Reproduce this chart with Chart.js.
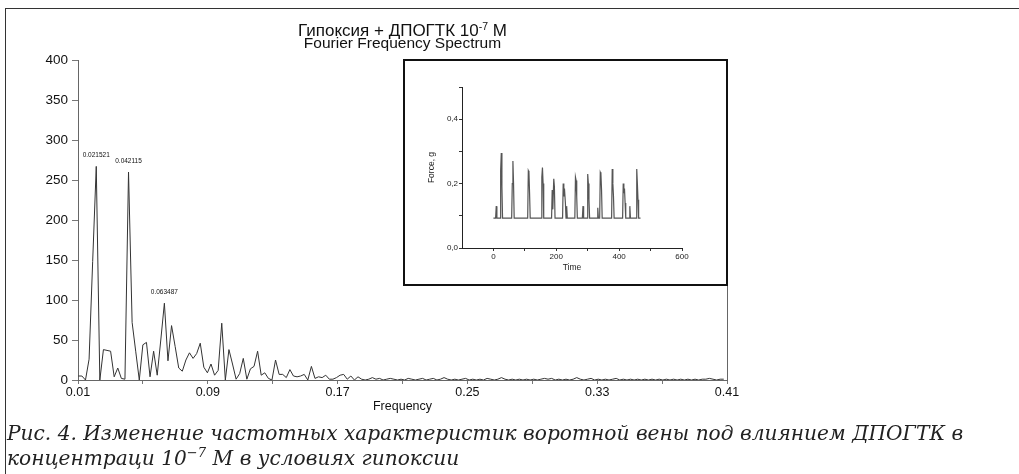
<!DOCTYPE html>
<html><head><meta charset="utf-8">
<script src="https://cdn.jsdelivr.net/npm/chart.js@4"></script>
<style>
html,body{margin:0;padding:0;background:#fff;}
#wrap{position:relative;width:1019px;height:474px;overflow:hidden;background:#fff;}
#main{position:absolute;left:0;top:0;}
#frame{position:absolute;left:5px;top:8px;width:1014px;height:466px;border-top:1.5px solid #333;border-left:1.5px solid #333;box-sizing:border-box;pointer-events:none;}
#insetBox{position:absolute;left:403px;top:59px;width:325px;height:227px;border:2px solid #111;box-sizing:border-box;background:#fff;}
#inset{display:block;}
#cap{position:absolute;left:7px;top:421px;font-family:"DejaVu Serif",serif;font-style:italic;line-height:25px;color:#222;white-space:nowrap;}
#cap sup{font-size:65%;vertical-align:0.6em;line-height:0;}
</style></head><body>
<div id="wrap">
<canvas id="main" width="1019" height="474"></canvas>
<div id="insetBox"><canvas id="inset" width="321" height="223"></canvas></div>
<div id="cap"></div>
<div id="frame"></div>
</div>
<script>
// ---- main spectrum data ----
const freqStart = 0.0102;
const freqStep = 0.00221;
const amplitude = [
  5,5,0,26,148,267,0,38,37,36,
  4,15,2,1,260,72,36,0,44,47,
  4,36,6,50,96,24,68,42,15,11,
  25,34,27,33,46,16,9,20,6,12,
  71,0,38,20,1,8,27,1,14,17,
  36,6,9,2,0,25,7,7,3,13,
  5,4,5,7,0,17,2,4,3,6,
  1,1,3,6,7,1,5,0,4,1,
  0,1,3,1,2,0,1,2,1,0,
  1,0,2,1,0,1,2,0,1,2,
  0,1,3,1,0,1,0,1,2,0,
  1,0,1,0,2,1,0,1,3,1,
  0,1,0,1,0,1,0,1,0,1,
  2,1,2,0,1,0,1,0,1,3,
  1,0,1,2,0,1,0,1,0,1,
  2,0,1,0,1,0,1,0,1,0,
  1,0,1,0,1,0,1,0,1,0,
  1,0,1,0,1,1,2,1,0,1,
  1
];
const peakIndices = [5, 14, 24];
const peakLabels = ['0.021521', '0.042115', '0.063487'];
const freqTicks = [0.01,0.05,0.09,0.13,0.17,0.21,0.25,0.29,0.33,0.37,0.41];
const freqTickLabels = ['0.01','','0.09','','0.17','','0.25','','0.33','','0.41'];
const ampTicks = [0,50,100,150,200,250,300,350,400];

// ---- inset trace data ----
const b = 0.093;
const timeValues = [0,7,9,11, 21,23,25,27,29, 58,60,62,64,66, 109,111,113,115,117, 152,154,156,158,160,
  185,187,189,192,194,196, 220,222,224,226,229,231,233,235, 259,261,263,265,267, 283,285,287,
  298,300,302,304,306, 330,332,334, 338,340,342,344,346, 376,378,380,382,384,
  411,413,415,417,419,421, 432,434,436, 454,456,458,460,462,468];
const forceValues = [b,b,.13,b, b,.24,.295,.19,b, b,.2,.27,.2,b, b,.24,.235,.17,b, b,.22,.25,.2,b,
  b,.18,.12,.215,.19,b, b,.2,.16,.185,.14,b,.13,b, b,.22,.21,.16,b, b,.13,b,
  b,.23,.2,.15,b, b,.125,b, b,.235,.23,.18,b, b,.245,.2,.16,b,
  b,.2,.17,.185,.14,b, b,.13,b, b,.245,.2,.15,b,b];
const timeTicks = [0,100,200,300,400,500,600];
const timeTickLabels = ['0','','200','','400','','600'];
const forceTicks = [0,0.1,0.2,0.3,0.4,0.5];
const forceTickLabels = ['0,0','','0,2','','0,4',''];

// ---- texts ----
const titleMain = 'Гипоксия + ДПОГТК 10';
const titleSup = '-7';
const titleEnd = ' М';
const subTitle = 'Fourier Frequency Spectrum';
const xTitle = 'Frequency';
const captionLine1 = 'Рис. 4. Изменение частотных характеристик воротной вены под влиянием ДПОГТК в';
const captionLine2a = 'концентраци 10';
const captionLine2sup = '−7';
const captionLine2b = ' М в условиях гипоксии';

const SANS = '"Liberation Sans", Arial, sans-serif';

const mainPlugin = {
  id: 'mainDeco',
  afterDraw(chart) {
    const ctx = chart.ctx, ca = chart.chartArea;
    const cx = (ca.left + ca.right) / 2;
    ctx.save();
    // right frame line
    ctx.strokeStyle = '#666'; ctx.lineWidth = 1;
    ctx.beginPath(); ctx.moveTo(ca.right + 0.5, ca.top); ctx.lineTo(ca.right + 0.5, ca.bottom); ctx.stroke();
    // titles
    ctx.fillStyle = '#111'; ctx.textBaseline = 'alphabetic'; ctx.textAlign = 'left';
    const f1 = '17px ' + SANS, fs = '10.5px ' + SANS;
    ctx.font = f1; const wa = ctx.measureText(titleMain).width, wb = ctx.measureText(titleEnd).width;
    ctx.font = fs; const ws = ctx.measureText(titleSup).width;
    let x = cx - (wa + ws + wb) / 2;
    ctx.font = f1; ctx.fillText(titleMain, x, 35.5); x += wa;
    ctx.font = fs; ctx.fillText(titleSup, x, 29.5); x += ws;
    ctx.font = f1; ctx.fillText(titleEnd, x, 35.5);
    ctx.font = '15.5px ' + SANS; ctx.textAlign = 'center';
    ctx.fillText(subTitle, cx, 48);
    // peak labels
    const meta = chart.getDatasetMeta(0);
    ctx.font = '6.5px ' + SANS; ctx.textBaseline = 'bottom';
    peakIndices.forEach((idx, i) => {
      const p = meta.data[idx];
      ctx.fillText(peakLabels[i], p.x, p.y - 8);
    });
    ctx.restore();
  }
};

new Chart(document.getElementById('main'), {
  type: 'line',
  data: {
    datasets: [{
      data: amplitude.map((v, i) => ({ x: freqStart + i * freqStep, y: v })),
      borderColor: '#333', borderWidth: 1, pointRadius: 0, tension: 0, fill: false
    }]
  },
  options: {
    responsive: false, animation: false, devicePixelRatio: 1,
    layout: { padding: { top: 60, right: 292, bottom: 54, left: 0 } },
    plugins: { legend: { display: false }, tooltip: { enabled: false } },
    scales: {
      x: {
        type: 'linear', min: 0.01, max: 0.41,
        afterBuildTicks: s => { s.ticks = freqTicks.map(v => ({ value: v })); },
        afterFit: s => { s.height = 40; },
        grid: { drawOnChartArea: false, tickLength: 4, color: '#777' },
        border: { color: '#666', width: 1 },
        ticks: { autoSkip: false, maxRotation: 0, padding: 1, color: '#111', font: { family: SANS, size: 12.5 },
          callback: (v, i) => freqTickLabels[i] },
        title: { display: true, text: xTitle, color: '#111', font: { family: SANS, size: 12.5 }, padding: { top: 0, bottom: 5.5 } }
      },
      y: {
        min: 0, max: 400,
        afterBuildTicks: s => { s.ticks = ampTicks.map(v => ({ value: v })); },
        afterFit: s => { s.width = 78; },
        grid: { drawOnChartArea: false, tickLength: 6, color: '#777' },
        border: { color: '#666', width: 1 },
        ticks: { padding: 4, color: '#111', font: { family: SANS, size: 13.5 }, callback: v => String(v) }
      }
    }
  },
  plugins: [mainPlugin]
});

new Chart(document.getElementById('inset'), {
  type: 'line',
  data: {
    datasets: [{
      data: timeValues.map((t, i) => ({ x: t, y: forceValues[i] })),
      borderColor: '#555', borderWidth: 1.2, pointRadius: 0, tension: 0, fill: false
    }]
  },
  options: {
    responsive: false, animation: false, devicePixelRatio: 1,
    layout: { padding: { top: 26, right: 44, bottom: 0, left: 0 } },
    plugins: { legend: { display: false }, tooltip: { enabled: false } },
    scales: {
      x: {
        type: 'linear', min: -100, max: 600,
        afterBuildTicks: s => { s.ticks = timeTicks.map(v => ({ value: v })); },
        afterFit: s => { s.height = 36; },
        grid: { drawOnChartArea: false, tickLength: 3, color: '#333' },
        border: { color: '#222', width: 1 },
        ticks: { autoSkip: false, maxRotation: 0, padding: 1, color: '#222', font: { family: SANS, size: 8 },
          callback: (v, i) => timeTickLabels[i] },
        title: { display: true, text: 'Time', color: '#222', font: { family: SANS, size: 8.5 }, padding: { top: 0, bottom: 11 } }
      },
      y: {
        min: 0, max: 0.5,
        afterBuildTicks: s => { s.ticks = forceTicks.map(v => ({ value: v })); },
        afterFit: s => { s.width = 57; },
        grid: { drawOnChartArea: false, tickLength: 3, color: '#333' },
        border: { color: '#222', width: 1 },
        ticks: { padding: 1, color: '#222', font: { family: SANS, size: 8 }, callback: (v, i) => forceTickLabels[i] },
        title: { display: true, text: 'Force, g', color: '#222', font: { family: SANS, size: 8.5 }, padding: { top: 22, bottom: 0 } }
      }
    }
  }
});

// caption
const cap = document.getElementById('cap');
const mc = document.createElement('canvas').getContext('2d');
mc.font = 'italic 20px "DejaVu Serif"';
const capW = mc.measureText(captionLine1).width;
cap.style.fontSize = (20 * 957 / capW).toFixed(2) + 'px';
cap.innerHTML = captionLine1 + '<br>' + captionLine2a + '<sup>' + captionLine2sup + '</sup>' + captionLine2b;
</script>
</body></html>
